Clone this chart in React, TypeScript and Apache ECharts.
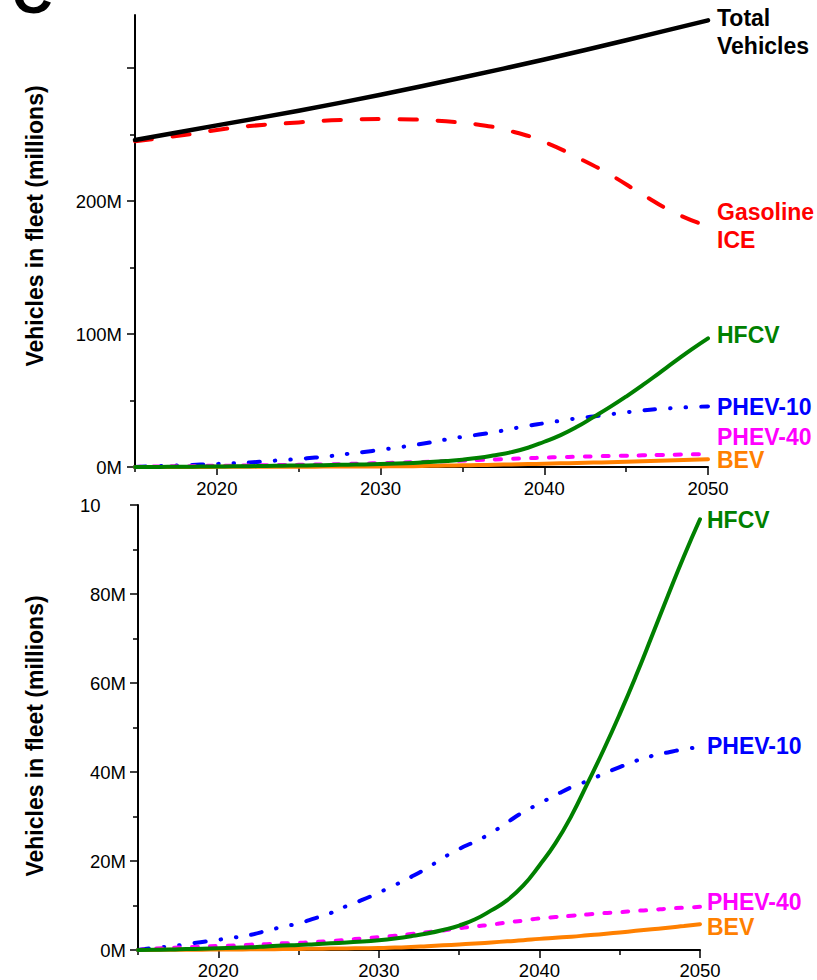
import React, { useEffect, useRef } from "react";
import * as echarts from "echarts";

const YEARS = [2015, 2016, 2017, 2018, 2019, 2020, 2021, 2022, 2023, 2024, 2025, 2026, 2027, 2028, 2029, 2030, 2031, 2032, 2033, 2034, 2035, 2036, 2037, 2038, 2039, 2040, 2041, 2042, 2043, 2044, 2045, 2046, 2047, 2048, 2049, 2050];
const HFCV = [0, 0.05, 0.1, 0.2, 0.3, 0.4, 0.5, 0.6, 0.8, 1.0, 1.1, 1.3, 1.5, 1.7, 1.9, 2.2, 2.6, 3.1, 3.7, 4.5, 5.5, 6.9, 8.9, 11.2, 14.5, 19.0, 24.0, 30.2, 37.5, 45.0, 53.0, 61.5, 70.5, 79.6, 88.5, 96.8];
const PHEV10 = [0, 0.5, 0.8, 1.3, 1.8, 2.3, 2.8, 3.4, 4.3, 5.2, 6.0, 7.1, 8.3, 9.9, 11.3, 12.9, 14.6, 16.4, 18.4, 20.7, 22.7, 24.4, 26.3, 28.7, 31.0, 32.9, 34.8, 36.6, 38.0, 39.6, 41.1, 42.5, 43.6, 44.4, 45.1, 45.6];
const PHEV40 = [0, 0.3, 0.5, 0.6, 0.8, 0.9, 1.0, 1.2, 1.3, 1.5, 1.6, 1.8, 2.0, 2.3, 2.6, 2.9, 3.2, 3.6, 4.0, 4.4, 4.9, 5.3, 5.7, 6.2, 6.6, 7.1, 7.4, 7.7, 8.0, 8.3, 8.5, 8.8, 9.0, 9.3, 9.5, 9.7];
const BEV = [0, 0.02, 0.04, 0.06, 0.08, 0.1, 0.12, 0.15, 0.18, 0.21, 0.25, 0.28, 0.32, 0.36, 0.4, 0.45, 0.55, 0.65, 0.85, 1.05, 1.25, 1.45, 1.7, 1.95, 2.2, 2.5, 2.75, 3.0, 3.3, 3.6, 3.95, 4.3, 4.65, 5.0, 5.4, 5.8];

const TOTAL_YEARS = [2015, 2020, 2025, 2030, 2035, 2040, 2045, 2050];
const TOTAL = [246, 257, 268, 280, 293, 306.5, 321, 336];
const GAS_YEARS = [2015, 2018, 2020, 2022, 2025, 2027, 2030, 2032, 2034, 2036, 2038, 2040, 2042, 2044, 2046, 2048, 2050];
const GAS = [245, 249.7, 253.5, 256.5, 259.2, 260.8, 261.7, 261.4, 260, 257.5, 252.5, 244.5, 233, 220, 205, 191, 181];

const X_LABELS = [2020, 2030, 2040, 2050];
const X_MINOR = [2015, 2025, 2035, 2045];
const TOP_Y_LABELS = [0, 100, 200];
const TOP_Y_TICKS = [0, 100, 200, 300];
const TOP_Y_MINOR = [50, 150, 250];
const BOT_Y_LABELS = [0, 20, 40, 60, 80];
const BOT_Y_TICKS = [0, 20, 40, 60, 80, 100];
const BOT_Y_MINOR = [10, 30, 50, 70, 90];

const FONT = "'Liberation Sans', Arial, Helvetica, sans-serif";
const C_BLACK = "#000000";
const C_RED = "#ff0000";
const C_GREEN = "#008000";
const C_BLUE = "#0000ff";
const C_MAG = "#ff00ff";
const C_ORANGE = "#ff8000";

const pairs = (xs: number[], ys: number[]) => xs.map((x, i) => [x, ys[i]]);

function App() {
  const ref = useRef<HTMLDivElement>(null);
  useEffect(() => {
    if (!ref.current) return;
    const chart = echarts.init(ref.current, undefined, { renderer: "svg" });
    const axisLine = { show: true, lineStyle: { color: "#000", width: 2 } };
    const labelStyle = { color: "#000", fontSize: 18.5, fontFamily: FONT };
    const mkX = (grid: number, main: boolean, margin: number) => ({
      type: "value",
      gridIndex: grid,
      position: "bottom",
      min: 2015,
      max: 2050,
      axisLine: main ? axisLine : { show: false },
      splitLine: { show: false },
      axisTick: {
        show: true,
        customValues: main ? X_LABELS : X_MINOR,
        length: main ? 8 : 5,
        lineStyle: { color: "#000", width: 1.5 },
      },
      axisLabel: main
        ? { show: true, customValues: X_LABELS, margin, formatter: (v: number) => String(v), ...labelStyle }
        : { show: false },
    });
    const mkY = (grid: number, main: boolean, max: number, labels: number[], ticks: number[], minor: number[], margin: number) => ({
      type: "value",
      gridIndex: grid,
      position: "left",
      min: 0,
      max,
      axisLine: main ? axisLine : { show: false },
      splitLine: { show: false },
      axisTick: {
        show: true,
        customValues: main ? ticks : minor,
        length: main ? 8 : 5,
        lineStyle: { color: "#000", width: 1.5 },
      },
      axisLabel: main
        ? { show: true, customValues: labels, margin, formatter: (v: number) => v + "M", ...labelStyle }
        : { show: false },
    });

    const line = (name: string, data: number[][], color: string, xi: number, type: any, z: number, smooth: any = false, width = 4) => ({
      name,
      type: "line",
      xAxisIndex: xi,
      yAxisIndex: xi,
      data,
      showSymbol: false,
      smooth,
      z,
      lineStyle: { color, width, type, cap: "round", join: "round" },
      silent: true,
    });

    const dashDotDot = [11, 15, 0.5, 15, 0.5, 15];
    const gasDash = [17, 21];
    const shortDash = [6, 12];

    const seriesFor = (xi: number) => [
      line("PHEV-10", pairs(YEARS, PHEV10), C_BLUE, xi, dashDotDot, 3, true),
      line("PHEV-40", pairs(YEARS, PHEV40), C_MAG, xi, shortDash, 4, true),
      line("BEV", pairs(YEARS, BEV), C_ORANGE, xi, "solid", 5, true),
      line("HFCV", pairs(YEARS, HFCV), C_GREEN, xi, "solid", 6, true),
    ];

    const txt = (text: string, x: number, y: number, color: string, size = 23, extra: any = {}) => ({
      type: "text",
      x,
      y,
      z: 100,
      ...extra,
      style: {
        text,
        fill: color,
        fontSize: size,
        fontWeight: "bold",
        fontFamily: FONT,
        align: extra.align || "left",
        verticalAlign: "middle",
        lineHeight: 28.5,
      },
    });

    chart.setOption({
      animation: false,
      backgroundColor: "#ffffff",
      grid: [
        { left: 135, right: 109, top: 15, bottom: 513, containLabel: false, outerBoundsMode: "none" },
        { left: 138, right: 117, top: 505, bottom: 30, containLabel: false, outerBoundsMode: "none" },
      ],
      xAxis: [mkX(0, true, 12), mkX(0, false, 12), mkX(1, true, 11), mkX(1, false, 11)],
      yAxis: [
        mkY(0, true, 340, TOP_Y_LABELS, TOP_Y_TICKS, TOP_Y_MINOR, 13),
        mkY(0, false, 340, TOP_Y_LABELS, TOP_Y_TICKS, TOP_Y_MINOR, 13),
        mkY(1, true, 100, BOT_Y_LABELS, BOT_Y_TICKS, BOT_Y_MINOR, 12),
        mkY(1, false, 100, BOT_Y_LABELS, BOT_Y_TICKS, BOT_Y_MINOR, 12),
      ],
      series: [
        line("Gasoline ICE", pairs(GAS_YEARS, GAS), C_RED, 0, gasDash, 2, true),
        line("Total Vehicles", pairs(TOTAL_YEARS, TOTAL), C_BLACK, 0, "solid", 3, 0.3, 4.5),
        ...seriesFor(0),
        ...seriesFor(2),
      ],
      graphic: [
        {
          type: "text",
          x: 12,
          y: -7,
          z: 100,
          style: { text: "C", fill: "#000", fontSize: 56, fontWeight: "bold", fontFamily: FONT, align: "left", verticalAlign: "middle" },
        },
        txt("Vehicles in fleet (millions)", 35, 226, "#000", 23, { rotation: Math.PI / 2, align: "center" }),
        txt("Vehicles in fleet (millions)", 35, 736, "#000", 23, { rotation: Math.PI / 2, align: "center" }),
        txt("Total", 717, 17.5, C_BLACK),
        txt("Vehicles", 717, 46, C_BLACK),
        txt("Gasoline", 717, 212, C_RED),
        txt("ICE", 717, 240, C_RED),
        txt("HFCV", 717, 335, C_GREEN),
        txt("PHEV-10", 717, 406.5, C_BLUE),
        txt("PHEV-40", 717, 436.5, C_MAG),
        txt("BEV", 717, 460, C_ORANGE),
        txt("HFCV", 707, 520, C_GREEN),
        txt("PHEV-10", 707, 746, C_BLUE),
        txt("PHEV-40", 707, 901.5, C_MAG),
        txt("BEV", 707, 926.5, C_ORANGE),
        {
          type: "text",
          x: 80,
          y: 505,
          z: 100,
          style: { text: "10", fill: "#000", fontSize: 18.5, fontFamily: FONT, align: "left", verticalAlign: "middle" },
        },
      ],
    });
    return () => chart.dispose();
  }, []);
  return (
    <div
      ref={ref}
      style={{ position: "absolute", left: 0, top: 0, width: 817, height: 980, background: "#fff" }}
    />
  );
}

export default App;
